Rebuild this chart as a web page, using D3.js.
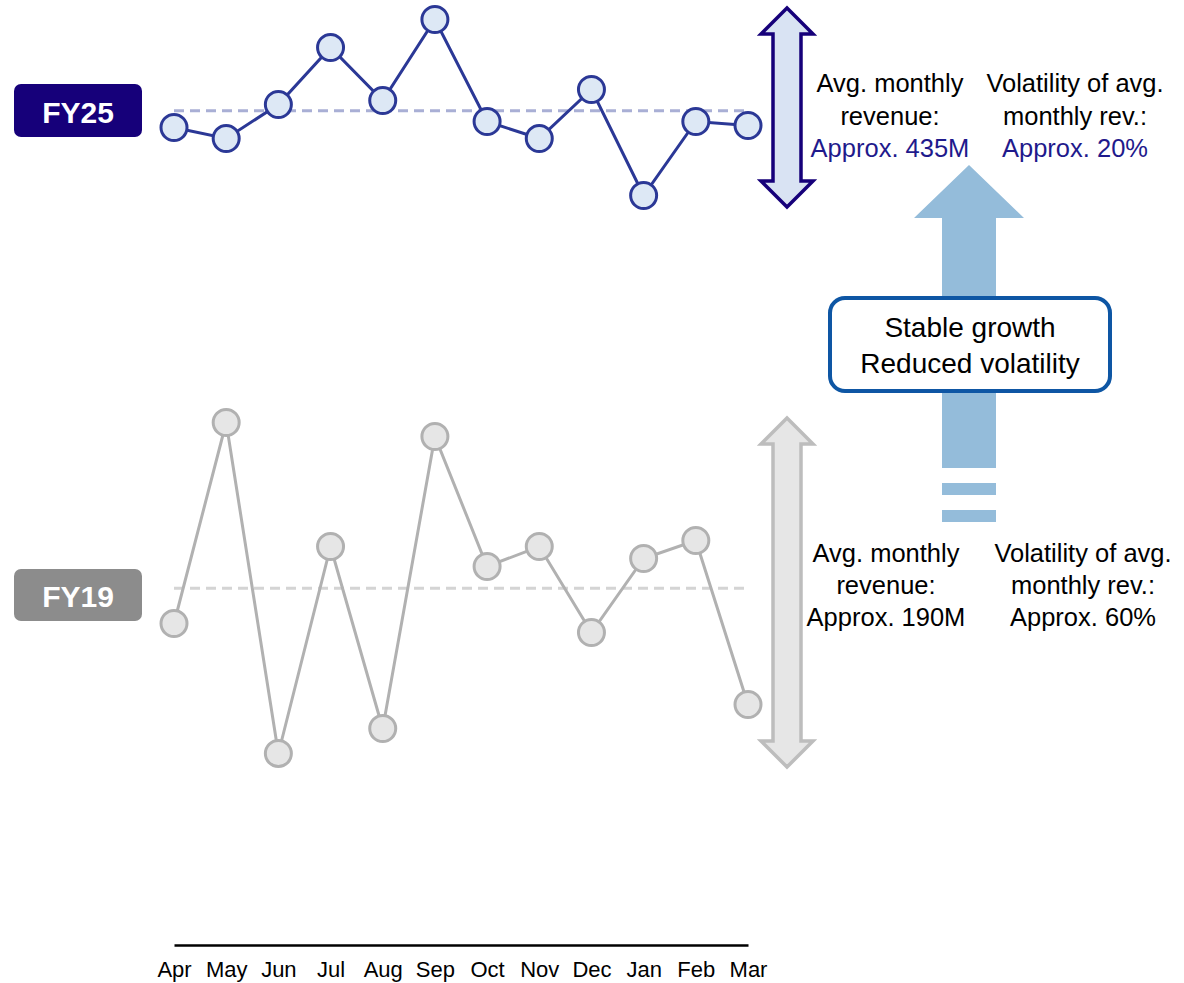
<!DOCTYPE html>
<html>
<head>
<meta charset="utf-8">
<script src="https://cdn.jsdelivr.net/npm/d3@7"></script>
<style>
  html, body { margin: 0; padding: 0; background: #fff; }
  svg { display: block; font-family: "Liberation Sans", Arial, sans-serif; }
</style>
</head>
<body>
<svg id="chart" width="1184" height="983"></svg>
<script>
// ---- data ----
const months = ["Apr","May","Jun","Jul","Aug","Sep","Oct","Nov","Dec","Jan","Feb","Mar"];
const fy25 = [418, 407, 441, 498, 445, 526, 424, 407, 456, 350, 424, 420]; // monthly revenue (M)
const fy19 = [155, 356, 25, 232, 50, 342, 212, 232, 146, 220, 238, 74];   // monthly revenue (M)
const seriesLabels = ["FY25", "FY19"];
const avgLines25 = ["Avg. monthly", "revenue:", "Approx. 435M"];
const volLines25 = ["Volatility of avg.", "monthly rev.:", "Approx. 20%"];
const avgLines19 = ["Avg. monthly", "revenue:", "Approx. 190M"];
const volLines19 = ["Volatility of avg.", "monthly rev.:", "Approx. 60%"];
const boxLines = ["Stable growth", "Reduced volatility"];

const svg = d3.select("#chart");

const x = d3.scalePoint().domain(months).range([174, 748]);
const yTop = d3.scaleLinear().domain([300, 550]).range([245.5, -4.5]);
const yBot = d3.scaleLinear().domain([0, 400]).range([778.5, 378.5]);

function drawSeries(data, y, lineColor, fillColor, dashColor) {
  const g = svg.append("g");
  const mean = d3.mean(data);
  g.append("line")
    .attr("x1", x.range()[0]).attr("x2", x.range()[1])
    .attr("y1", y(mean)).attr("y2", y(mean))
    .attr("stroke", dashColor).attr("stroke-width", 3)
    .attr("stroke-dasharray", "10,6");
  const pts = months.map((m, i) => [x(m), y(data[i])]);
  g.append("path")
    .attr("d", d3.line()(pts))
    .attr("fill", "none").attr("stroke", lineColor).attr("stroke-width", 3);
  g.selectAll("circle").data(pts).join("circle")
    .attr("cx", d => d[0]).attr("cy", d => d[1]).attr("r", 13)
    .attr("fill", fillColor).attr("stroke", lineColor).attr("stroke-width", 3);
}

drawSeries(fy25, yTop, "#2b3896", "#dde8f5", "#a9afd5");
drawSeries(fy19, yBot, "#b1b1b1", "#e6e6e6", "#d4d4d4");

// series labels
function seriesLabel(txt, yTopPx, h, color, baseline) {
  svg.append("rect").attr("x", 14).attr("y", yTopPx).attr("width", 128).attr("height", h)
    .attr("rx", 7).attr("fill", color);
  svg.append("text").attr("x", 78).attr("y", baseline).attr("text-anchor", "middle")
    .attr("fill", "#fff").attr("font-weight", "bold").attr("font-size", 30).text(txt);
}
seriesLabel(seriesLabels[0], 84, 53, "#16007a", 123);
seriesLabel(seriesLabels[1], 569, 52, "#8c8c8c", 607);

// double arrows
function doubleArrow(cx, top, bottom, stroke, fill) {
  const hw = 26, hl = 26, sw = 14;
  const p = d3.path();
  p.moveTo(cx, top);
  p.lineTo(cx + hw, top + hl);
  p.lineTo(cx + sw, top + hl);
  p.lineTo(cx + sw, bottom - hl);
  p.lineTo(cx + hw, bottom - hl);
  p.lineTo(cx, bottom);
  p.lineTo(cx - hw, bottom - hl);
  p.lineTo(cx - sw, bottom - hl);
  p.lineTo(cx - sw, top + hl);
  p.lineTo(cx - hw, top + hl);
  p.closePath();
  svg.append("path").attr("d", p.toString()).attr("fill", fill)
    .attr("stroke", stroke).attr("stroke-width", 3.5).attr("stroke-linejoin", "miter");
}
doubleArrow(787, 8, 207, "#16007a", "#d9e3f3");
doubleArrow(787, 418, 767, "#bdbdbd", "#e6e6e6");

// big upward arrow
const arrowColor = "#94bcda";
(function () {
  const p = d3.path();
  p.moveTo(969, 165);
  p.lineTo(1024, 218);
  p.lineTo(996, 218);
  p.lineTo(996, 468);
  p.lineTo(942, 468);
  p.lineTo(942, 218);
  p.lineTo(914, 218);
  p.closePath();
  svg.append("path").attr("d", p.toString()).attr("fill", arrowColor);
  svg.append("rect").attr("x", 942).attr("y", 483).attr("width", 54).attr("height", 12).attr("fill", arrowColor);
  svg.append("rect").attr("x", 942).attr("y", 510).attr("width", 54).attr("height", 12).attr("fill", arrowColor);
})();

// box
svg.append("rect").attr("x", 830).attr("y", 298).attr("width", 280).attr("height", 93)
  .attr("rx", 15).attr("fill", "#fff").attr("stroke", "#0e56a4").attr("stroke-width", 4);
svg.append("text").attr("text-anchor", "middle").attr("font-size", 28).attr("fill", "#000")
  .selectAll("tspan").data(boxLines).join("tspan")
  .attr("x", 970).attr("y", (d, i) => 337 + i * 36).text(d => d);

// side texts
function textBlock(lines, cx, y0, step, lastColor) {
  svg.append("text").attr("text-anchor", "middle").attr("font-size", 25.5)
    .selectAll("tspan").data(lines).join("tspan")
    .attr("x", cx).attr("y", (d, i) => y0 + i * step)
    .attr("fill", (d, i) => i === lines.length - 1 ? lastColor : "#000")
    .text(d => d);
}
textBlock(avgLines25, 890, 92, 32.5, "#1f1a8c");
textBlock(volLines25, 1075, 92, 32.5, "#1f1a8c");
textBlock(avgLines19, 886, 562, 32, "#000");
textBlock(volLines19, 1083, 562, 32, "#000");

// x axis
const axisG = svg.append("g").attr("transform", "translate(0,945)")
  .call(d3.axisBottom(x).tickSize(0).tickPadding(16));
axisG.select(".domain").attr("stroke", "#000").attr("stroke-width", 2.5);
axisG.selectAll("text").attr("font-size", 22).attr("fill", "#000")
  .attr("font-family", "'Liberation Sans', Arial, sans-serif");
</script>
</body>
</html>
